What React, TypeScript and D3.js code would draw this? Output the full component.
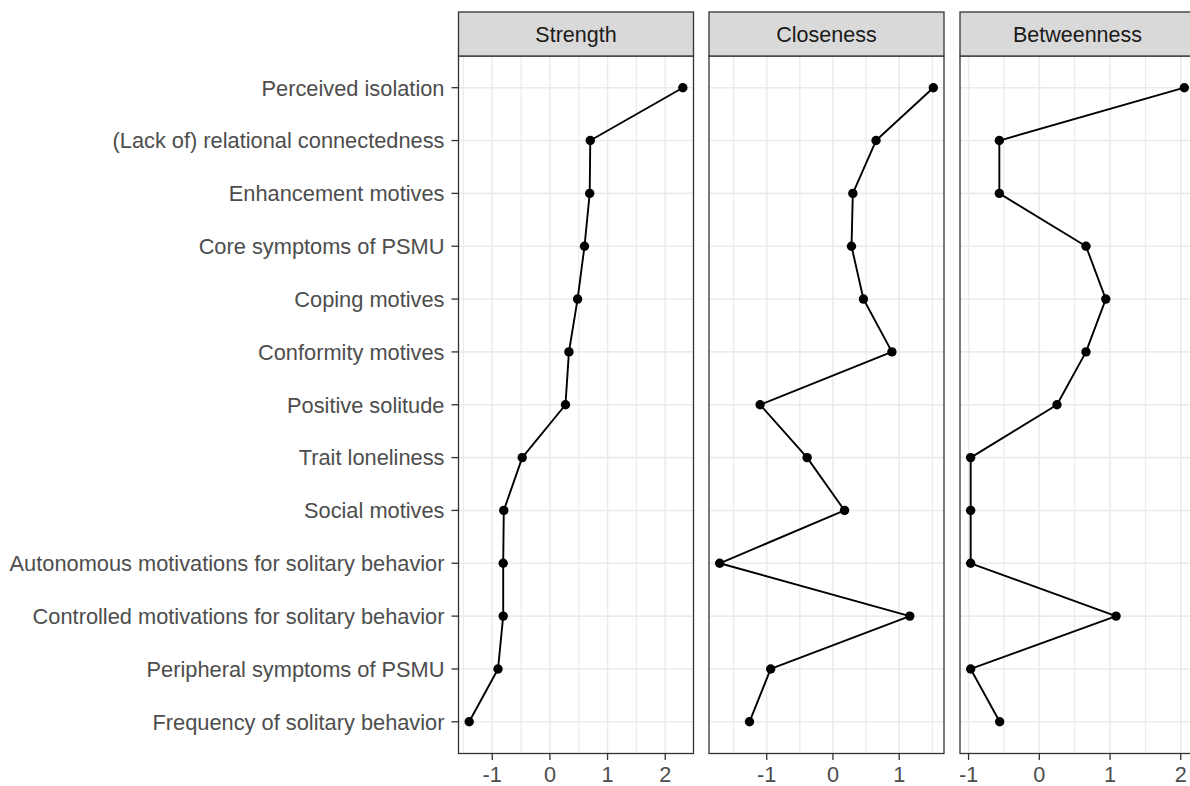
import React from "react";
import * as d3 from "d3";

const categories = [
  "Perceived isolation",
  "(Lack of) relational connectedness",
  "Enhancement motives",
  "Core symptoms of PSMU",
  "Coping motives",
  "Conformity motives",
  "Positive solitude",
  "Trait loneliness",
  "Social motives",
  "Autonomous motivations for solitary behavior",
  "Controlled motivations for solitary behavior",
  "Peripheral symptoms of PSMU",
  "Frequency of solitary behavior",
];

const strength = [2.305, 0.70, 0.69, 0.60, 0.48, 0.33, 0.27, -0.48, -0.80, -0.81, -0.81, -0.90, -1.40];
const closeness = [1.515, 0.65, 0.30, 0.28, 0.46, 0.89, -1.10, -0.39, 0.175, -1.71, 1.16, -0.94, -1.26];
const betweenness = [2.05, -0.565, -0.565, 0.66, 0.94, 0.66, 0.25, -0.97, -0.97, -0.97, 1.085, -0.97, -0.56];

const panelTitles = ["Strength", "Closeness", "Betweenness"];
const panelValues = [strength, closeness, betweenness];

const W = 1190;
const H = 786;
const panelTop = 56;
const panelBottom = 753.5;
const stripTop = 12;
const panelW = 235;
const panelLefts = [458.5, 709, 960];
const FONT = "'Liberation Sans', Arial, Helvetica, sans-serif";

export default function App() {
  const y = d3
    .scalePoint<string>()
    .domain(categories)
    .range([panelTop, panelBottom])
    .padding(0.6);

  return (
    <svg
      width={W}
      height={H}
      style={{ position: "absolute", left: 0, top: 0, background: "#fff" }}
      fontFamily={FONT}
    >
      <rect x={0} y={0} width={W} height={H} fill="#fff" />
      {categories.map((c) => (
        <g key={c}>
          <text
            x={444.5}
            y={y(c)!}
            dy="0.36em"
            textAnchor="end"
            fontSize={21.8}
            fill="#4d4d4d"
          >
            {c}
          </text>
          <line x1={451.5} x2={458.5} y1={y(c)!} y2={y(c)!} stroke="#333" strokeWidth={1.3} />
        </g>
      ))}
      {panelValues.map((vals, pi) => {
        const [lo, hi] = d3.extent(vals) as [number, number];
        const pad = (hi - lo) * 0.05;
        const x0 = panelLefts[pi];
        const x = d3.scaleLinear().domain([lo - pad, hi + pad]).range([x0, x0 + panelW]);
        const majors = d3.range(Math.ceil(lo - pad), Math.floor(hi + pad) + 1);
        const minors = d3
          .range(Math.ceil((lo - pad) * 2) / 2, hi + pad, 0.5)
          .filter((v) => Math.abs(v - Math.round(v)) > 0.1);
        const line = d3
          .line<number>()
          .x((v) => x(v))
          .y((_, i) => y(categories[i])!);
        return (
          <g key={pi}>
            <rect x={x0} y={panelTop} width={panelW} height={panelBottom - panelTop} fill="#fff" />
            {minors.map((m) => (
              <line key={"mi" + m} x1={x(m)} x2={x(m)} y1={panelTop} y2={panelBottom} stroke="#ebebeb" strokeWidth={1.2} />
            ))}
            {majors.map((m) => (
              <line key={"ma" + m} x1={x(m)} x2={x(m)} y1={panelTop} y2={panelBottom} stroke="#ebebeb" strokeWidth={1.6} />
            ))}
            {categories.map((c) => (
              <line key={"h" + c} x1={x0} x2={x0 + panelW} y1={y(c)!} y2={y(c)!} stroke="#ebebeb" strokeWidth={1.6} />
            ))}
            <path d={line(vals)!} fill="none" stroke="#000" strokeWidth={1.9} strokeLinejoin="round" />
            {vals.map((v, i) => (
              <circle key={i} cx={x(v)} cy={y(categories[i])!} r={4.7} fill="#000" />
            ))}
            <rect x={x0} y={panelTop} width={panelW} height={panelBottom - panelTop} fill="none" stroke="#333" strokeWidth={1.3} />
            <rect x={x0} y={stripTop} width={panelW} height={panelTop - stripTop} fill="#d9d9d9" stroke="#333" strokeWidth={1.3} />
            <text x={x0 + panelW / 2} y={(stripTop + panelTop) / 2} dy="0.36em" textAnchor="middle" fontSize={21.5} fill="#1a1a1a">
              {panelTitles[pi]}
            </text>
            {majors.map((m) => (
              <g key={"t" + m}>
                <line x1={x(m)} x2={x(m)} y1={panelBottom} y2={panelBottom + 6.5} stroke="#333" strokeWidth={1.3} />
                <text x={x(m)} y={782} textAnchor="middle" fontSize={21.7} fill="#4d4d4d">
                  {m < 0 ? "-" + Math.abs(m) : String(m)}
                </text>
              </g>
            ))}
          </g>
        );
      })}
    </svg>
  );
}
